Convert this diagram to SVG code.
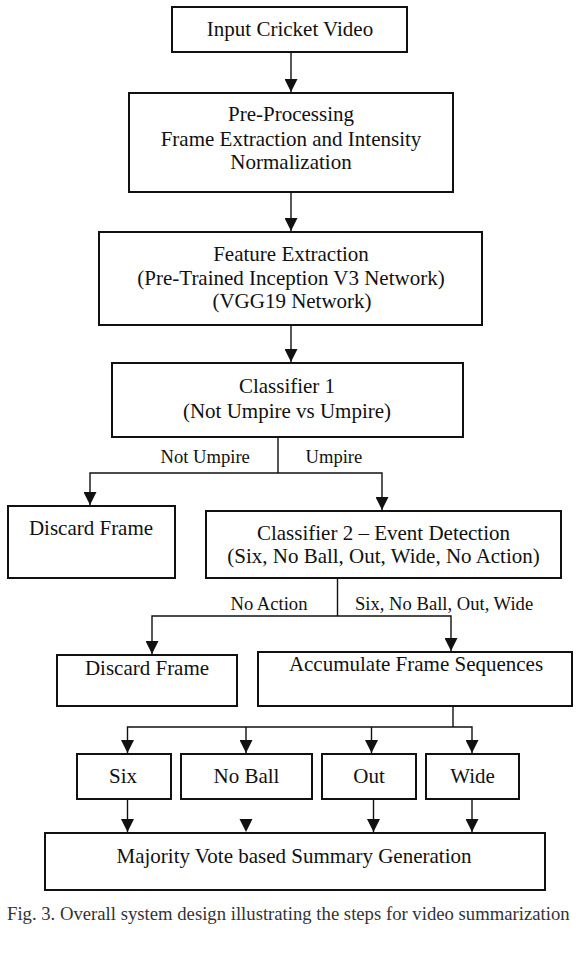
<svg xmlns="http://www.w3.org/2000/svg" width="580" height="958" viewBox="0 0 580 958">
  <defs>
    <style>
      .box { fill: #ffffff; stroke: #111111; stroke-width: 2; }
      .t { font-family: "Liberation Serif", "Times New Roman", serif; font-size: 21px; fill: #111111; text-anchor: middle; }
      .lbl { font-family: "Liberation Serif", "Times New Roman", serif; font-size: 18.6px; fill: #111111; }
      .cap { font-family: "Liberation Serif", "Times New Roman", serif; font-size: 18.7px; fill: #333333; }
      .ln { fill: none; stroke: #111111; stroke-width: 1.4; }
      .ah { fill: #111111; }
    </style>
    <marker id="arr" viewBox="0 0 13 13" refX="13" refY="6.5" markerWidth="13" markerHeight="13" markerUnits="userSpaceOnUse" orient="auto-start-reverse">
      <path d="M0,0 L13,6.5 L0,13 Z" fill="#111111"/>
    </marker>
  </defs>
  <rect width="580" height="958" fill="#ffffff"/>

  <g id="n-input">
    <rect class="box" x="172" y="7" width="235" height="45"/>
    <text class="t" x="290" y="36">Input Cricket Video</text>
  </g>

  <g id="n-preprocessing">
    <rect class="box" x="129" y="93" width="324" height="99"/>
    <text class="t" x="291" y="121">Pre-Processing</text>
    <text class="t" x="291" y="146">Frame Extraction and Intensity</text>
    <text class="t" x="291" y="169">Normalization</text>
  </g>

  <g id="n-feature">
    <rect class="box" x="99" y="232" width="383" height="93"/>
    <text class="t" x="291" y="261">Feature Extraction</text>
    <text class="t" x="291" y="285">(Pre-Trained Inception V3 Network)</text>
    <text class="t" x="292" y="308">(VGG19 Network)</text>
  </g>

  <g id="n-classifier1">
    <rect class="box" x="112" y="363" width="351" height="74"/>
    <text class="t" x="287" y="393">Classifier 1</text>
    <text class="t" x="287" y="418">(Not Umpire vs Umpire)</text>
  </g>

  <g id="n-discard1">
    <rect class="box" x="8" y="506" width="167" height="72"/>
    <text class="t" x="91" y="535">Discard Frame</text>
  </g>

  <g id="n-classifier2">
    <rect class="box" x="206" y="511" width="355" height="67"/>
    <text class="t" x="383.5" y="540">Classifier 2 – Event Detection</text>
    <text class="t" x="383.5" y="563">(Six, No Ball, Out, Wide, No Action)</text>
  </g>

  <g id="n-discard2">
    <rect class="box" x="57" y="655" width="180" height="51"/>
    <text class="t" x="147" y="675">Discard Frame</text>
  </g>

  <g id="n-accumulate">
    <rect class="box" x="258" y="652" width="314" height="54"/>
    <text class="t" x="416" y="671">Accumulate Frame Sequences</text>
  </g>

  <g id="n-six">
    <rect class="box" x="77" y="754" width="94" height="45"/>
    <text class="t" x="123" y="783">Six</text>
  </g>

  <g id="n-noball">
    <rect class="box" x="181" y="754" width="131" height="45"/>
    <text class="t" x="246.5" y="783">No Ball</text>
  </g>

  <g id="n-out">
    <rect class="box" x="322" y="754" width="94" height="45"/>
    <text class="t" x="369" y="783">Out</text>
  </g>

  <g id="n-wide">
    <rect class="box" x="426" y="754" width="93" height="45"/>
    <text class="t" x="472.5" y="783">Wide</text>
  </g>

  <g id="n-majority">
    <rect class="box" x="45" y="833" width="500" height="57"/>
    <text class="t" x="294" y="863">Majority Vote based Summary Generation</text>
  </g>

  <g id="connectors">
    <line class="ln" x1="291" y1="52" x2="291" y2="92" marker-end="url(#arr)"/>
    <line class="ln" x1="291" y1="192" x2="291" y2="231" marker-end="url(#arr)"/>
    <line class="ln" x1="291" y1="325" x2="291" y2="362" marker-end="url(#arr)"/>

    <polyline class="ln" points="278,437 278,473"/>
    <polyline class="ln" points="90,505 90,473 382,473 382,510" marker-start="url(#arr)" marker-end="url(#arr)"/>
    <text class="lbl" x="160.5" y="463">Not Umpire</text>
    <text class="lbl" x="305.5" y="463">Umpire</text>

    <polyline class="ln" points="337.5,578 337.5,616"/>
    <polyline class="ln" points="152,654 152,616 451,616 451,651" marker-start="url(#arr)" marker-end="url(#arr)"/>
    <text class="lbl" x="230.5" y="610">No Action</text>
    <text class="lbl" x="355" y="610">Six, No Ball, Out, Wide</text>

    <polyline class="ln" points="453,706 453,727"/>
    <polyline class="ln" points="127.5,753 127.5,727 472,727 472,753" marker-start="url(#arr)" marker-end="url(#arr)"/>
    <line class="ln" x1="246" y1="727" x2="246" y2="753" marker-end="url(#arr)"/>
    <line class="ln" x1="371.5" y1="727" x2="371.5" y2="753" marker-end="url(#arr)"/>

    <line class="ln" x1="127.5" y1="799" x2="127.5" y2="832" marker-end="url(#arr)"/>
    <polygon class="ah" points="239.5,819 252.5,819 246,832"/>
    <line class="ln" x1="373.5" y1="799" x2="373.5" y2="832" marker-end="url(#arr)"/>
    <line class="ln" x1="472" y1="799" x2="472" y2="832" marker-end="url(#arr)"/>
  </g>

  <text class="cap" x="7" y="920">Fig. 3. Overall system design illustrating the steps for video summarization</text>
</svg>
